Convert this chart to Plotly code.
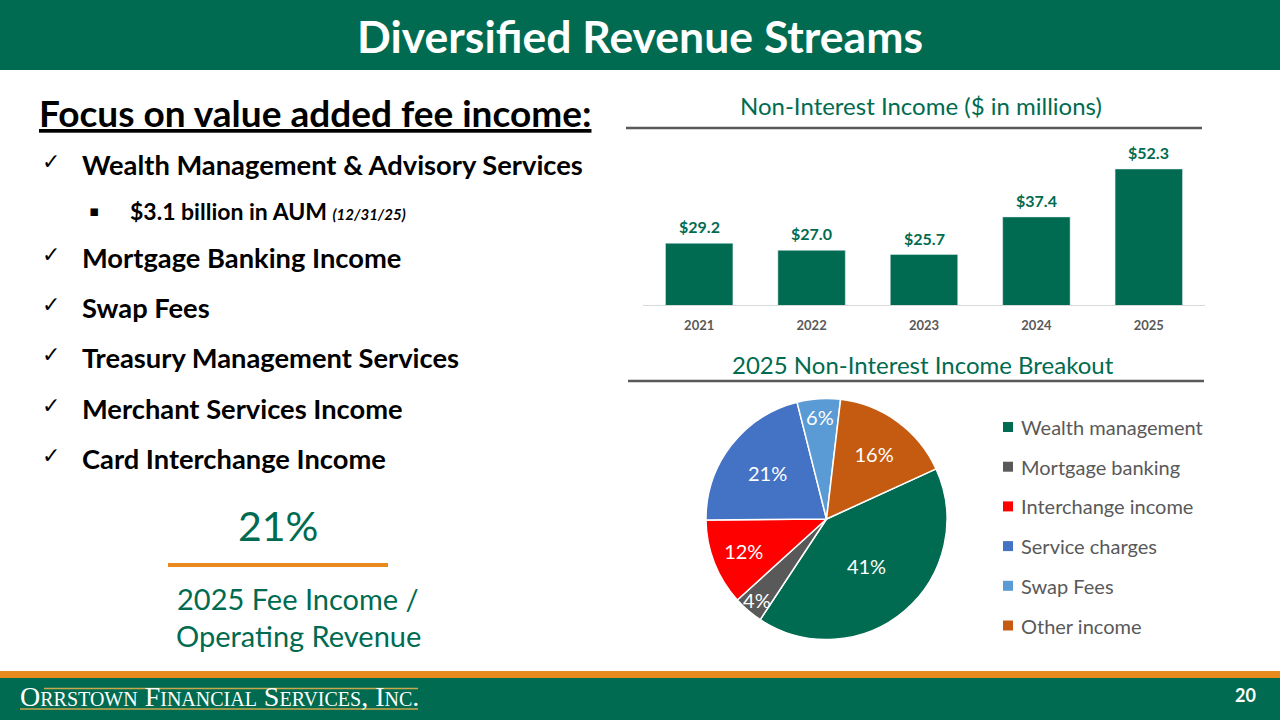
import plotly.graph_objects as go

W, H = 1280, 720
GREEN = "#006B50"
ORANGE = "#E98A1E"
GRAY = "#595959"
FONT = "Lato"

# ---------------- data ----------------
years = ["2021", "2022", "2023", "2024", "2025"]
income = [29.2, 27.0, 25.7, 37.4, 52.3]

pie_labels = ["Wealth management", "Mortgage banking", "Interchange income",
              "Service charges", "Swap Fees", "Other income"]
pie_values = [41.1, 4.0, 11.6, 21.2, 5.8, 16.3]
pie_colors = [GREEN, "#595959", "#FF0000", "#4472C4", "#5B9BD5", "#C55A11"]

bullets = ["Wealth Management & Advisory Services", "Mortgage Banking Income",
           "Swap Fees", "Treasury Management Services",
           "Merchant Services Income", "Card Interchange Income"]
sub_bullet = "$3.1 billion in AUM"
sub_bullet_date = "(12/31/25)"
fee_ratio = "21%"
fee_caption = ["2025 Fee Income /", "Operating Revenue"]


def px(x):
    return x / W


def py(y):
    return 1 - y / H


fig = go.Figure()

# bar chart
fig.add_trace(go.Bar(
    x=years, y=income, marker_color=GREEN, width=0.6,
    xaxis="x", yaxis="y", hovertemplate="%{x}: $%{y:.1f}M<extra></extra>",
))

# pie chart
fig.add_trace(go.Pie(
    labels=pie_labels, values=pie_values, sort=False, direction="clockwise",
    rotation=65.4,
    marker=dict(colors=pie_colors, line=dict(color="white", width=1.5)),
    texttemplate="%{percent:.0%}", textposition="inside",
    insidetextorientation="horizontal",
    textfont=dict(family=FONT, size=20, color="white"),
    domain=dict(x=[px(706), px(947)], y=[py(639.5), py(398.5)]),
    showlegend=False, hoverinfo="label+percent",
))

shapes = []
ann = []


def rect(x0, y0, x1, y1, color):
    shapes.append(dict(type="rect", xref="paper", yref="paper",
                       x0=px(x0), x1=px(x1), y0=py(y1), y1=py(y0),
                       fillcolor=color, line=dict(width=0), layer="below"))


def hline(x0, x1, y, color, width):
    shapes.append(dict(type="line", xref="paper", yref="paper",
                       x0=px(x0), x1=px(x1), y0=py(y), y1=py(y),
                       line=dict(color=color, width=width)))


def text(x, y, s, size, color="black", weight=400, xanchor="center",
         family=FONT, **fontkw):
    ann.append(dict(x=px(x), y=py(y), xref="paper", yref="paper", text=s,
                    showarrow=False, xanchor=xanchor, yanchor="middle",
                    font=dict(family=family, size=size, color=color,
                              weight=weight, **fontkw)))


# header
rect(0, 0, 1280, 70, GREEN)
text(640, 35, "Diversified Revenue Streams", 44.5, "white", 700)

# footer
rect(0, 671, 1280, 678, ORANGE)
rect(0, 678, 1280, 720, GREEN)
hline(44, 418, 688.5, "#C9A74E", 1.5)
hline(20, 418, 709, "#C9A74E", 1.5)
text(18, 696, "Orrstown Financial Services, Inc.", 28, "white", 400,
     xanchor="left", family="Liberation Serif", variant="small-caps")
text(1245, 695, "20", 18, "white", 700)

# left text
text(37, 112, "Focus on value added fee income:", 37, "black", 700,
     xanchor="left", lineposition="under")
bullet_rows = [165, 257, 307, 357, 408, 458]
for label, yy in zip(bullets, bullet_rows):
    text(40, yy - 3, "✓", 22, "black", 400, xanchor="left", family="DejaVu Sans")
    text(80, yy, label, 27.3, "black", 700, xanchor="left")
text(87, 211, "▪", 15, "black", 400, xanchor="left", family="DejaVu Sans")
text(128, 211, sub_bullet + " <span style='font-size:15px'><i>" + sub_bullet_date + "</i></span>",
     23, "black", 700, xanchor="left")

text(278, 525, fee_ratio, 41, GREEN, 400)
hline(168, 388, 565, ORANGE, 4)
text(298, 598, fee_caption[0], 29, GREEN, 400)
text(298, 635, fee_caption[1], 29, GREEN, 400)

# chart titles
text(921, 105, "Non-Interest Income ($ in millions)", 24, GREEN, 400)
hline(626, 1202, 128, GRAY, 2.5)
text(923, 364, "2025 Non-Interest Income Breakout", 24, GREEN, 400)
hline(628, 1204, 381, GRAY, 2.5)

# bar value labels (category index positions on the bar x axis)
for i, v in enumerate(income):
    ann.append(dict(x=i, y=v, xref="x", yref="y", text=f"${v:.1f}",
                    showarrow=False, yanchor="bottom", yshift=5,
                    font=dict(family=FONT, size=16, color=GREEN, weight=700)))

# pie legend
for i, (lab, col) in enumerate(zip(pie_labels, pie_colors)):
    yy = 427 + i * 39.7
    shapes.append(dict(type="rect", xref="paper", yref="paper",
                       x0=px(1003), x1=px(1013), y0=py(yy + 5), y1=py(yy - 5),
                       fillcolor=col, line=dict(width=0)))
    text(1019, yy, lab, 20, GRAY, 400, xanchor="left")

fig.update_layout(
    width=W, height=H,
    margin=dict(l=0, r=0, t=0, b=0, pad=0, autoexpand=False),
    paper_bgcolor="white", plot_bgcolor="white",
    showlegend=False,
    uniformtext=dict(minsize=20, mode="show"),
    xaxis=dict(domain=[px(643), px(1205)], type="category",
               range=[-0.5, len(years) - 0.5],
               showline=True, linecolor="#D9D9D9", linewidth=1,
               showgrid=False, ticks="", fixedrange=True,
               ticklabelstandoff=8,
               tickfont=dict(family=FONT, size=13, color=GRAY, weight=700)),
    yaxis=dict(domain=[py(305), py(140)], range=[10, 61.32], visible=False,
               fixedrange=True),
    shapes=shapes, annotations=ann,
)

fig.write_html("out.html")
